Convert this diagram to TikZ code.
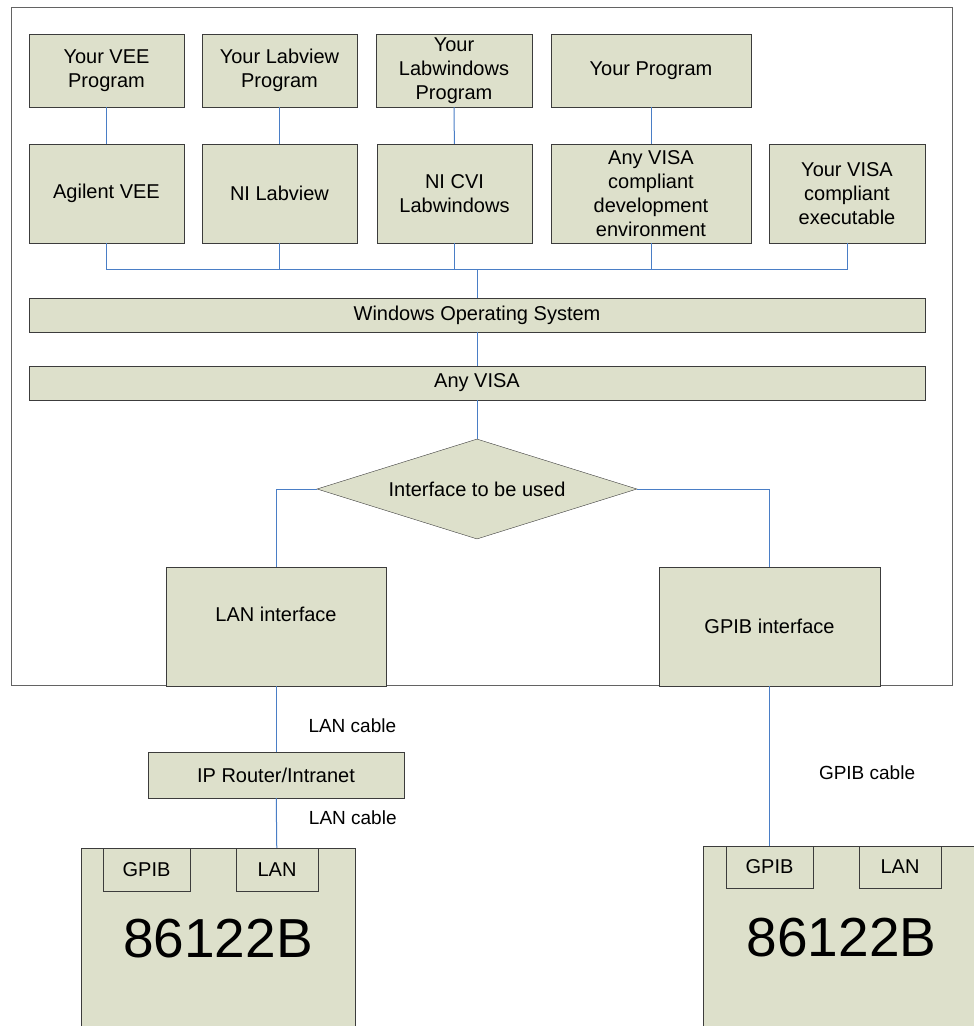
\documentclass[tikz,border=0pt]{standalone}
\usepackage{fontspec}
\setmainfont{Liberation Sans}
\usetikzlibrary{shapes.geometric, positioning}
\definecolor{boxfill}{HTML}{DDE0CB}
\definecolor{wireblue}{HTML}{4A7EC6}
\definecolor{edgegray}{HTML}{3C3C3C}

\begin{document}
\begin{tikzpicture}[x=1pt,y=-1pt,
    box/.style={draw=edgegray, fill=boxfill, inner sep=0pt, align=center,
      font=\fontsize{20}{24}\selectfont},
    dia/.style={box, shape=diamond, aspect=3.2, minimum width=320, minimum height=100},
    dev/.style={box, font=\fontsize{55}{60}\selectfont},
    wire/.style={draw=wireblue, line width=1pt},
    cable/.style={font=\fontsize{19}{22}\selectfont, inner sep=0pt}]
  \useasboundingbox (0,0) rectangle (974,1026);
  \draw[edgegray!80, line width=0.9pt] (11,7) rectangle (952,685);

  % programs
  \node[box, minimum width=155, minimum height=73] (p1) at (106.5,70.5) {Your VEE\\Program};
  \node[box, minimum width=155, minimum height=73] (p2) at (279.5,70.5) {Your Labview\\Program};
  \node[box, minimum width=156, minimum height=73] (p3) at (454,70.5) {Your\\Labwindows\\Program};
  \node[box, minimum width=200, minimum height=73] (p4) at (651,70.5) {Your Program};
  % environments
  \node[box, minimum width=155, minimum height=99] (e1) at (106.5,193.5) {Agilent VEE};
  \node[box, minimum width=155, minimum height=99] (e2) at (279.5,193.5) {NI Labview};
  \node[box, minimum width=155, minimum height=99] (e3) at (454.5,193.5) {NI CVI\\Labwindows};
  \node[box, minimum width=200, minimum height=99] (e4) at (651,193.5) {Any VISA\\compliant\\development\\environment};
  \node[box, minimum width=156, minimum height=99] (e5) at (847,193.5) {Your VISA\\compliant\\executable};
  \coordinate (bus) at (477,269);

  \node[box, minimum width=896, minimum height=34] (win) at (477,315) {Windows Operating System};
  \node[box, minimum width=896, minimum height=34] (visa) at (477,383) {Any VISA};
  \node[dia] (iface) at (477,489) {Interface to be used};

  \node[box, minimum width=220, minimum height=119,
    label={[font=\fontsize{20}{24}\selectfont, yshift=12pt]center:LAN interface}] (lan) at (276,626.5) {};
  \node[box, minimum width=221, minimum height=119] (gpib) at (769.5,626.5) {GPIB interface};
  \node[box, minimum width=256, minimum height=46] (router) at (276,775) {IP Router/Intranet};

  % instruments
  \node[dev, minimum width=274, minimum height=182] (dev1) at (218,939) {86122B};
  \node[dev, minimum width=277, minimum height=184] (dev2) at (841.5,938) {86122B};
  \node[box, minimum width=87, minimum height=43] (gp1) at (146.5,869.5) {GPIB};
  \node[box, minimum width=82, minimum height=43] (ln1) at (277,869.5) {LAN};
  \node[box, minimum width=87, minimum height=42] (gp2) at (769.5,867) {GPIB};
  \node[box, minimum width=82, minimum height=42] (ln2) at (900,867) {LAN};

  \path[wire]
    (p1) edge (e1)
    (p2) edge (e2)
    (p3) edge (e3)
    (p4) edge (e4);
  \draw[wire] (e1.south) |- (bus) -- (win.north);
  \draw[wire] (e2.south) |- (bus);
  \draw[wire] (e3.south) |- (bus);
  \draw[wire] (e4.south) |- (bus);
  \draw[wire] (e5.south) |- (bus);
  \draw[wire] (win) -- (visa);
  \draw[wire] (visa) -- (iface);
  \draw[wire] (iface.west) -| (lan.north);
  \draw[wire] (iface.east) -| (gpib.north);
  \draw[wire] (lan) -- node[cable, pos=0.6, right=32pt] {LAN cable} (router);
  \draw[wire] (router) -- node[cable, pos=0.4, right=32pt] {LAN cable} (ln1);
  \draw[wire] (gpib) -- node[cable, pos=0.54, right=49pt] {GPIB cable} (gp2);
\end{tikzpicture}
\end{document}
